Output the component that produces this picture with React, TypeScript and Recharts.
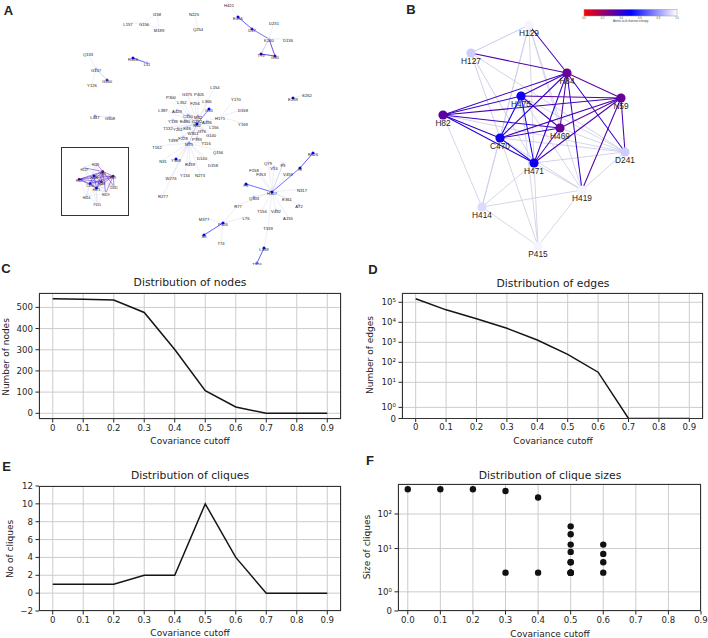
import React from "react";
import {
  LineChart,
  Line,
  ScatterChart,
  Scatter,
  XAxis,
  YAxis,
  CartesianGrid,
} from "recharts";

const FONT = "'DejaVu Sans', sans-serif";
const ARIAL = "'Liberation Sans', Arial, sans-serif";

// ---- data: panels C-F ----
const cutoffs = [0, 0.1, 0.2, 0.3, 0.4, 0.5, 0.6, 0.7, 0.8, 0.9];
const nodeCounts = [541, 539, 535, 476, 301, 107, 30, 0, 0, 0];
const edgeCounts = [150000, 42000, 15000, 5000, 1300, 250, 32, 0, 0, 0];
const cliqueCounts = [1, 1, 1, 2, 2, 10, 4, 0, 0, 0];
const cliqueSizes: number[][] = [
  [520],
  [520],
  [520],
  [465, 2],
  [300, 2],
  [44, 26, 13, 8, 4, 2, 2, 4, 2, 2],
  [13, 7, 4, 2],
  [],
  [],
  [],
];
const nodeTicks = [0, 100, 200, 300, 400, 500];
const cliqueTicks = [-2, 0, 2, 4, 6, 8, 10, 12];
const edgeTickValues = [0, 1, 10, 100, 1000, 10000, 100000];
const sizeTickValues = [0, 1, 10, 100];
const supDigits = ["⁰", "¹", "²", "³", "⁴", "⁵"];

// ---- data: network panels (name, x, y, shannon entropy) ----
type NodeT = [string, number, number, number];
type EdgeT = [string, string, number];

const bNodes: NodeT[] = [
  ["H129", 175, 25, 0.98],
  ["H127", 117, 53, 0.9],
  ["H84", 213, 73, 0.3],
  ["N59", 267, 98, 0.3],
  ["H475", 167, 96, 0.47],
  ["H82", 89, 115, 0.32],
  ["H469", 206, 128, 0.3],
  ["C470", 146, 138, 0.47],
  ["H471", 180, 163, 0.47],
  ["D241", 271, 152, 0.9],
  ["H419", 228, 190, 0.98],
  ["H414", 128, 207, 0.93],
  ["P415", 184, 246, 0.98],
];

const bEdges: EdgeT[] = [
  ["H127", "H129", 0.85],
  ["H129", "C470", 0.92],
  ["H129", "H471", 0.92],
  ["H129", "H469", 0.92],
  ["H129", "H419", 0.92],
  ["H129", "H414", 0.92],
  ["H127", "H471", 0.88],
  ["H127", "D241", 0.9],
  ["H127", "C470", 0.88],
  ["H82", "H414", 0.92],
  ["H82", "D241", 0.92],
  ["H414", "H471", 0.92],
  ["H414", "H419", 0.92],
  ["H414", "P415", 0.92],
  ["H414", "C470", 0.92],
  ["P415", "H471", 0.92],
  ["P415", "H419", 0.92],
  ["P415", "H475", 0.92],
  ["P415", "C470", 0.92],
  ["H419", "H471", 0.9],
  ["H419", "C470", 0.92],
  ["H419", "H475", 0.92],
  ["D241", "H471", 0.9],
  ["D241", "C470", 0.9],
  ["D241", "H475", 0.92],
  ["D241", "H419", 0.9],
  ["D241", "H469", 0.9],
  ["H129", "H84", 0.36],
  ["H127", "H84", 0.34],
  ["H84", "H475", 0.38],
  ["H84", "N59", 0.32],
  ["H84", "H82", 0.38],
  ["H84", "C470", 0.4],
  ["H84", "H471", 0.4],
  ["H84", "H469", 0.32],
  ["H84", "D241", 0.4],
  ["H84", "H419", 0.4],
  ["N59", "H475", 0.33],
  ["N59", "H82", 0.36],
  ["N59", "C470", 0.36],
  ["N59", "H471", 0.36],
  ["N59", "H469", 0.32],
  ["N59", "D241", 0.36],
  ["N59", "H419", 0.34],
  ["H82", "H475", 0.4],
  ["H82", "H469", 0.38],
  ["H82", "C470", 0.42],
  ["H82", "H471", 0.42],
  ["H475", "H469", 0.36],
  ["C470", "H469", 0.38],
  ["H471", "H469", 0.38],
  ["H475", "C470", 0.47],
  ["H475", "H471", 0.47],
  ["C470", "H471", 0.45],
];

const aNodes: NodeT[] = [
  ["H421", 229, 4, 0.98], ["E456", 238, 17, 0.5], ["D37", 252, 29, 0.55],
  ["D231", 274, 22, 0.98], ["K260", 269, 39, 0.9], ["D136", 288, 39, 0.98],
  ["T79", 261, 54, 0.5], ["G30", 275, 56, 0.3],
  ["I158", 157, 13, 0.98], ["L157", 128, 23, 0.98], ["G156", 144, 23, 0.98],
  ["M189", 159, 29, 0.98], ["N225", 194, 13, 0.98], ["Q254", 198, 28, 0.98],
  ["Q133", 88, 53, 0.98], ["G137", 96, 69, 0.85], ["G160", 107, 80, 0.6],
  ["Y126", 92, 84, 0.98], ["R556", 133, 58, 0.5], ["L11", 147, 63, 0.85],
  ["L447", 95, 116, 0.8], ["G508", 110, 117, 0.9], ["E239", 293, 98, 0.5],
  ["S262", 307, 94, 0.98],
  ["L154", 215, 86, 0.98], ["G375", 187, 93, 0.98], ["P405", 199, 93, 0.98],
  ["P300", 171, 96, 0.98], ["L352", 182, 101, 0.98], ["F256", 195, 102, 0.98],
  ["L366", 207, 100, 0.98], ["Y170", 236, 98, 0.98], ["L387", 163, 109, 0.98],
  ["A429", 177, 110, 0.9], ["G55", 209, 109, 0.5], ["D168", 243, 109, 0.98],
  ["C130", 188, 115, 0.85], ["M32", 198, 116, 0.85], ["H171", 220, 117, 0.98],
  ["A496", 207, 121, 0.9], ["Y169", 243, 123, 0.98], ["Y136", 173, 120, 0.9],
  ["E480", 185, 120, 0.9], ["C232", 197, 120, 0.9], ["R62", 197, 124, 0.5],
  ["L156", 214, 126, 0.98], ["T132", 168, 127, 0.98], ["Y201", 178, 128, 0.9],
  ["E48", 187, 127, 0.9], ["I376", 202, 130, 0.9], ["W301", 193, 132, 0.9],
  ["G140", 211, 134, 0.98], ["T498", 173, 139, 0.98], ["F228", 183, 137, 0.9],
  ["P393", 197, 138, 0.9], ["M75", 189, 143, 0.8], ["Y116", 206, 142, 0.98],
  ["T162", 157, 146, 0.98], ["Q156", 218, 151, 0.98], ["N31", 163, 160, 0.98],
  ["Y558", 176, 159, 0.5], ["D140", 202, 157, 0.98], ["R439", 190, 163, 0.9],
  ["D158", 213, 164, 0.98], ["Y134", 185, 174, 0.98], ["N273", 200, 174, 0.98],
  ["W276", 171, 177, 0.98], ["R277", 163, 195, 0.98],
  ["R526", 313, 153, 0.5], ["I9", 300, 168, 0.5], ["Q79", 268, 162, 0.98],
  ["F3", 283, 164, 0.9], ["V16", 274, 167, 0.9], ["F158", 254, 169, 0.98],
  ["V459", 288, 173, 0.98], ["F353", 261, 173, 0.98], ["F8", 246, 184, 0.5],
  ["N317", 302, 189, 0.98], ["H307", 272, 192, 0.5], ["Q303", 254, 197, 0.85],
  ["E361", 287, 198, 0.98], ["A72", 299, 205, 0.9], ["R77", 238, 205, 0.98],
  ["T156", 262, 210, 0.98], ["V492", 276, 210, 0.9], ["A155", 288, 217, 0.98],
  ["L76", 246, 217, 0.98], ["M377", 204, 218, 0.98], ["P526", 223, 223, 0.5],
  ["S5", 204, 235, 0.5], ["T74", 221, 242, 0.98], ["T339", 268, 227, 0.98],
  ["L339", 264, 248, 0.5], ["T526", 257, 263, 0.7],
];

const aEdges: EdgeT[] = [
  ["H421", "E456", 0.93], ["E456", "D37", 0.55], ["D37", "K260", 0.6],
  ["K260", "D231", 0.93], ["K260", "D136", 0.93], ["K260", "T79", 0.7],
  ["K260", "G30", 0.4], ["T79", "G30", 0.4],
  ["L157", "G156", 0.93], ["G156", "I158", 0.93], ["G156", "M189", 0.93],
  ["I158", "M189", 0.93], ["N225", "Q254", 0.93],
  ["Q133", "G137", 0.93], ["G137", "G160", 0.75], ["G137", "Y126", 0.93],
  ["R556", "L11", 0.55], ["L447", "G508", 0.85], ["E239", "S262", 0.9],
  ["R62", "L154", 0.93], ["R62", "G375", 0.93], ["R62", "P405", 0.93],
  ["R62", "P300", 0.93], ["R62", "L352", 0.93], ["R62", "F256", 0.93],
  ["R62", "L366", 0.93], ["R62", "L387", 0.93], ["R62", "A429", 0.75],
  ["R62", "G55", 0.65], ["R62", "C130", 0.75], ["R62", "M32", 0.8],
  ["R62", "H171", 0.9], ["R62", "A496", 0.8], ["R62", "Y136", 0.8],
  ["R62", "E480", 0.8], ["R62", "C232", 0.8], ["R62", "L156", 0.9],
  ["R62", "T132", 0.9], ["R62", "Y201", 0.85], ["R62", "E48", 0.85],
  ["R62", "I376", 0.85], ["R62", "W301", 0.85], ["R62", "G140", 0.9],
  ["R62", "F228", 0.85], ["R62", "P393", 0.85], ["R62", "M75", 0.75],
  ["H171", "Y170", 0.93], ["H171", "D168", 0.93], ["H171", "Y169", 0.93],
  ["M75", "T498", 0.93], ["M75", "T162", 0.93], ["M75", "N31", 0.93],
  ["M75", "Y558", 0.8], ["M75", "D140", 0.93], ["M75", "R439", 0.93],
  ["M75", "D158", 0.93], ["M75", "Y134", 0.93], ["M75", "N273", 0.93],
  ["M75", "W276", 0.93], ["M75", "R277", 0.93], ["M75", "Y116", 0.93],
  ["M75", "Q156", 0.93], ["M75", "Y201", 0.9],
  ["H307", "Q79", 0.93], ["H307", "F3", 0.75], ["H307", "V16", 0.9],
  ["H307", "F158", 0.93], ["H307", "V459", 0.93], ["H307", "F353", 0.93],
  ["H307", "F8", 0.6], ["H307", "N317", 0.93], ["H307", "Q303", 0.9],
  ["H307", "E361", 0.93], ["H307", "A72", 0.9], ["H307", "T156", 0.93],
  ["H307", "V492", 0.9], ["H307", "A155", 0.93], ["H307", "T339", 0.93],
  ["H307", "I9", 0.6], ["H307", "R77", 0.93], ["I9", "R526", 0.55],
  ["R77", "P526", 0.93], ["L76", "P526", 0.93], ["P526", "M377", 0.93],
  ["P526", "S5", 0.55], ["P526", "T74", 0.93], ["T339", "L339", 0.9],
  ["L339", "T526", 0.55],
];

// matplotlib symlog, linthresh 2, linscale 1
const LIN = 2;
const LSCALE = 1 / (1 - 1 / 10);
const symlog = (v: number) =>
  v <= LIN ? (v / LIN) * LSCALE : LSCALE + Math.log10(v / LIN);
const powLabel = (v: number) =>
  v === 0 ? "0" : "10" + supDigits[Math.round(Math.log10(v))];
const symFormatter = (values: number[]) => (t: number) => {
  const v = values.find((d) => Math.abs(symlog(d) - t) < 1e-6);
  return v === undefined ? "" : powLabel(v);
};

const nodeRows = cutoffs.map((x, i) => ({ x, y: nodeCounts[i] }));
const edgeRows = cutoffs.map((x, i) => ({ x, y: symlog(edgeCounts[i]) }));
const cliqueRows = cutoffs.map((x, i) => ({ x, y: cliqueCounts[i] }));
const sizeRows = cutoffs.flatMap((x, i) =>
  cliqueSizes[i].map((s) => ({ x, y: symlog(s) }))
);

function entropyRgb(e: number): [number, number, number] {
  if (e <= 0.5) {
    const f = e / 0.5;
    return [255 * (1 - f), 0, 255 * f];
  }
  const f = (e - 0.5) / 0.5;
  return [255 * f, 255 * f, 255];
}
const rgb = (c: number[]) => `rgb(${c.map((v) => Math.round(v)).join(",")})`;
const entropyColor = (e: number) => rgb(entropyRgb(e));
// faint edges are drawn a little greyer than the colour scale
const edgeColor = (e: number) => {
  const c = entropyRgb(e);
  if (e < 0.8) return rgb(c);
  return rgb(c.map((v, i) => v * 0.45 + [196, 196, 206][i] * 0.55));
};

const tickStyle = { fontSize: 8.6, fontFamily: FONT, fill: "#262626" };
const gridColor = "#cccccc";
const ink = "#262626";
const cutFmt = (v: number) => (v === 0 ? "0" : String(v));

function Txt(props: {
  x: number;
  y: number;
  size: number;
  children: React.ReactNode;
  rotate?: number;
  bold?: boolean;
  family?: string;
}) {
  const { x, y, size, children, rotate = 0, bold = false, family = FONT } = props;
  return (
    <div
      style={{
        position: "absolute",
        left: x,
        top: y,
        transform: `translate(-50%, -50%) rotate(${rotate}deg)`,
        fontSize: size,
        fontFamily: family,
        fontWeight: bold ? 700 : 400,
        whiteSpace: "nowrap",
        lineHeight: 1,
        color: "#222",
      }}
    >
      {children}
    </div>
  );
}

function Frame({ x, y, w, h, width = 1 }: { x: number; y: number; w: number; h: number; width?: number }) {
  return (
    <div
      style={{
        position: "absolute",
        left: x,
        top: y,
        width: w,
        height: h,
        boxSizing: "border-box",
        border: `${width}px solid #333`,
        pointerEvents: "none",
      }}
    />
  );
}

function Network(props: {
  nodes: NodeT[];
  edges: EdgeT[];
  width: number;
  height: number;
  xDomain: [number, number];
  yDomain: [number, number];
  nodeR: number;
  fontSize: number;
  labelDy: number;
  strong: number;
  weak: number;
}) {
  const { nodes, edges, width, height, xDomain, yDomain, nodeR, fontSize, labelDy, strong, weak } = props;
  const pts = nodes.map(([name, x, y, e]) => ({ name, x, y, e }));
  const byName: Record<string, { name: string; x: number; y: number; e: number }> = {};
  pts.forEach((p) => (byName[p.name] = p));
  return (
    <ScatterChart width={width} height={height} margin={{ top: 0, right: 0, bottom: 0, left: 0 }}>
      <XAxis type="number" dataKey="x" domain={xDomain} hide allowDataOverflow />
      <YAxis type="number" dataKey="y" domain={yDomain} hide reversed allowDataOverflow />
      {edges.map(([a, b, e], i) => {
        const c = edgeColor(e);
        return (
          <Scatter
            key={"e" + i}
            data={[byName[a], byName[b]]}
            fill={c}
            line={{ stroke: c, strokeWidth: e < 0.7 ? strong : weak }}
            shape={() => <g />}
            legendType="none"
            isAnimationActive={false}
          />
        );
      })}
      <Scatter
        data={pts}
        legendType="none"
        isAnimationActive={false}
        shape={(p: any) => (
          <g>
            <circle cx={p.cx} cy={p.cy} r={nodeR} fill={entropyColor(p.payload.e)} />
            <text
              x={p.cx}
              y={p.cy + labelDy}
              textAnchor="middle"
              dominantBaseline="central"
              fontSize={fontSize}
              fontFamily={ARIAL}
              fill="#222"
            >
              {p.payload.name}
            </text>
          </g>
        )}
      />
    </ScatterChart>
  );
}

function Colorbar() {
  const labels = [0, 0.2, 0.4, 0.6, 0.8, 1];
  return (
    <svg width={110} height={26} style={{ position: "absolute", left: 578, top: 4 }}>
      <defs>
        <linearGradient id="entropyGrad" x1="0" x2="1" y1="0" y2="0">
          <stop offset="0" stopColor="#ff0000" />
          <stop offset="0.5" stopColor="#0000ff" />
          <stop offset="1" stopColor="#ffffff" />
        </linearGradient>
      </defs>
      <rect x={6} y={5.3} width={93} height={6.7} fill="url(#entropyGrad)" stroke="#999" strokeWidth={0.5} />
      {labels.map((v) => (
        <text key={v} x={6 + v * 93} y={14.8} fontSize={2.6} textAnchor="middle" fill="#555" fontFamily={ARIAL}>
          {v.toFixed(1)}
        </text>
      ))}
      <text x={52.7} y={17.6} fontSize={2.8} textAnchor="middle" fill="#444" fontFamily={ARIAL}>
        Amino acid shannon entropy
      </text>
    </svg>
  );
}

export default function App() {
  return (
    <div style={{ position: "absolute", left: 0, top: 0, width: 708, height: 638, background: "#fff", overflow: "hidden" }}>
      {/* A */}
      <div style={{ position: "absolute", left: 0, top: 0 }}>
        <Network
          nodes={aNodes}
          edges={aEdges}
          width={354}
          height={265}
          xDomain={[0, 354]}
          yDomain={[0, 265]}
          nodeR={1.5}
          fontSize={4.2}
          labelDy={1}
          strong={0.7}
          weak={0.35}
        />
      </div>
      <div style={{ position: "absolute", left: 62, top: 148, background: "#fff" }}>
        <Network
          nodes={bNodes}
          edges={bEdges}
          width={66}
          height={67}
          xDomain={[0.5, 344]}
          yDomain={[-55, 309]}
          nodeR={1.3}
          fontSize={3.2}
          labelDy={2}
          strong={0.45}
          weak={0.3}
        />
      </div>
      <Frame x={61} y={147} w={68} h={69} width={1.5} />

      {/* B */}
      <div style={{ position: "absolute", left: 354, top: 0 }}>
        <Network
          nodes={bNodes}
          edges={bEdges}
          width={354}
          height={265}
          xDomain={[0, 354]}
          yDomain={[0, 265]}
          nodeR={4.6}
          fontSize={8.3}
          labelDy={8}
          strong={1.05}
          weak={0.8}
        />
      </div>
      <Colorbar />

      {/* C */}
      <div style={{ position: "absolute", left: 0, top: 265 }}>
        <LineChart width={354} height={185} data={nodeRows} margin={{ top: 28, right: 13, bottom: 0, left: 0 }}>
          <CartesianGrid stroke={gridColor} />
          <XAxis type="number" dataKey="x" domain={[-0.045, 0.945]} ticks={cutoffs} interval={0} tickFormatter={cutFmt}
            height={31} tickSize={3.5} tickMargin={2} tick={tickStyle} tickLine={{ stroke: ink }} axisLine={false} allowDataOverflow />
          <YAxis type="number" domain={[-27, 568]} ticks={nodeTicks} interval={0} width={39} tickSize={3.5} tickMargin={2.5}
            tick={tickStyle} tickLine={{ stroke: ink }} axisLine={false} allowDataOverflow />
          <Line dataKey="y" stroke="#151515" strokeWidth={1.5} dot={false} isAnimationActive={false} />
        </LineChart>
      </div>
      <Frame x={39} y={293} w={302} h={126} />

      {/* D */}
      <div style={{ position: "absolute", left: 354, top: 265 }}>
        <LineChart width={354} height={185} data={edgeRows} margin={{ top: 28, right: 5, bottom: 0, left: 0 }}>
          <CartesianGrid stroke={gridColor} />
          <XAxis type="number" dataKey="x" domain={[-0.045, 0.945]} ticks={cutoffs} interval={0} tickFormatter={cutFmt}
            height={31.5} tickSize={3.5} tickMargin={2} tick={tickStyle} tickLine={{ stroke: ink }} axisLine={false} allowDataOverflow />
          <YAxis type="number" domain={[0, 6.275]} ticks={edgeTickValues.map(symlog)} interval={0}
            tickFormatter={symFormatter(edgeTickValues)} width={48} tickSize={3.5} tickMargin={2.5}
            tick={tickStyle} tickLine={{ stroke: ink }} axisLine={false} allowDataOverflow />
          <Line dataKey="y" stroke="#151515" strokeWidth={1.5} dot={false} isAnimationActive={false} />
        </LineChart>
      </div>
      <Frame x={402} y={293} w={301} h={126} />

      {/* E */}
      <div style={{ position: "absolute", left: 0, top: 450 }}>
        <LineChart width={354} height={188} data={cliqueRows} margin={{ top: 36, right: 13, bottom: 0, left: 0 }}>
          <CartesianGrid stroke={gridColor} />
          <XAxis type="number" dataKey="x" domain={[-0.045, 0.945]} ticks={cutoffs} interval={0} tickFormatter={cutFmt}
            height={27} tickSize={3.5} tickMargin={2} tick={tickStyle} tickLine={{ stroke: ink }} axisLine={false} allowDataOverflow />
          <YAxis type="number" domain={[-2, 12]} ticks={cliqueTicks} interval={0} width={39} tickSize={3.5} tickMargin={2.5}
            tickFormatter={(v: number) => (v < 0 ? "−" + Math.abs(v) : String(v))}
            tick={tickStyle} tickLine={{ stroke: ink }} axisLine={false} allowDataOverflow />
          <Line dataKey="y" stroke="#151515" strokeWidth={1.5} dot={false} isAnimationActive={false} />
        </LineChart>
      </div>
      <Frame x={39} y={486} w={302} h={125} />

      {/* F */}
      <div style={{ position: "absolute", left: 354, top: 450 }}>
        <ScatterChart width={354} height={188} margin={{ top: 34, right: 7, bottom: 0, left: 0 }}>
          <CartesianGrid stroke={gridColor} />
          <XAxis type="number" dataKey="x" domain={[-0.03, 0.9]} ticks={cutoffs} interval={0}
            tickFormatter={(v: number) => v.toFixed(1)} height={27} tickSize={3.5} tickMargin={2}
            tick={tickStyle} tickLine={{ stroke: ink }} axisLine={false} allowDataOverflow />
          <YAxis type="number" dataKey="y" domain={[0, 3.68]} ticks={sizeTickValues.map(symlog)} interval={0}
            tickFormatter={symFormatter(sizeTickValues)} width={44} tickSize={3.5} tickMargin={2.5}
            tick={tickStyle} tickLine={{ stroke: ink }} axisLine={false} allowDataOverflow />
          <Scatter data={sizeRows} fill="#111" isAnimationActive={false}
            shape={(p: any) => <circle cx={p.cx} cy={p.cy} r={3.2} fill="#111" />} />
        </ScatterChart>
      </div>
      <Frame x={398} y={484} w={303} h={127} />

      {/* titles and axis labels */}
      <Txt x={190} y={283} size={10.8}>Distribution of nodes</Txt>
      <Txt x={190} y={441} size={9}>Covariance cutoff</Txt>
      <Txt x={6} y={357} size={9} rotate={-90}>Number of nodes</Txt>

      <Txt x={553} y={284} size={10.8}>Distribution of edges</Txt>
      <Txt x={553} y={441} size={9}>Covariance cutoff</Txt>
      <Txt x={369.5} y={355} size={9} rotate={-90}>Number of edges</Txt>

      <Txt x={190} y={476} size={10.8}>Distribution of cliques</Txt>
      <Txt x={190} y={633} size={9}>Covariance cutoff</Txt>
      <Txt x={10} y={549} size={9} rotate={-90}>No of cliques</Txt>

      <Txt x={550} y={476} size={10.8}>Distribution of clique sizes</Txt>
      <Txt x={550} y={634} size={9}>Covariance cutoff</Txt>
      <Txt x={367} y={547} size={9} rotate={-90}>Size of cliques</Txt>

      {/* panel letters */}
      <Txt x={8.5} y={9.5} size={13} bold family={ARIAL}>A</Txt>
      <Txt x={411} y={8.5} size={13} bold family={ARIAL}>B</Txt>
      <Txt x={6} y={268} size={13} bold family={ARIAL}>C</Txt>
      <Txt x={373} y={269} size={13} bold family={ARIAL}>D</Txt>
      <Txt x={6.5} y={466} size={13} bold family={ARIAL}>E</Txt>
      <Txt x={370} y={460} size={13} bold family={ARIAL}>F</Txt>
    </div>
  );
}
